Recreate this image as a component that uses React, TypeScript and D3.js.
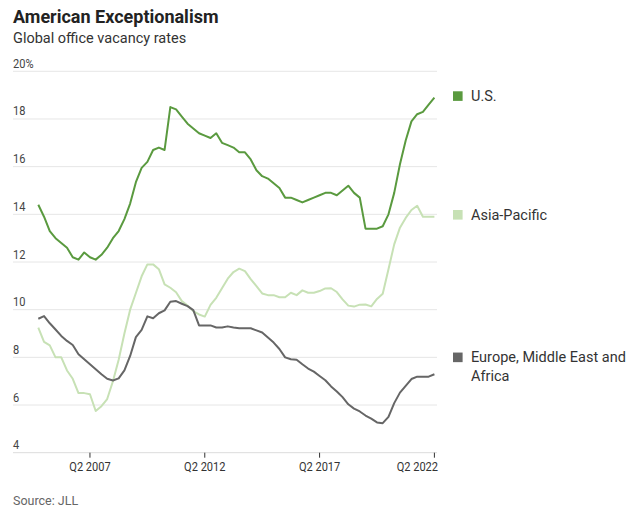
import React from "react";
import * as d3 from "d3";

// Quarterly data, Q1 2005 .. Q2 2022
const startYear = 2005;
const usValues = [
  14.4, 13.9, 13.3, 13.0, 12.8, 12.6, 12.2, 12.1, 12.4, 12.2,
  12.1, 12.3, 12.6, 13.0, 13.3, 13.8, 14.45, 15.35, 15.95, 16.2,
  16.7, 16.8, 16.7, 18.5, 18.4, 18.1, 17.8, 17.6, 17.4, 17.3,
  17.2, 17.4, 17.0, 16.9, 16.8, 16.6, 16.6, 16.3, 15.85, 15.6,
  15.5, 15.3, 15.1, 14.7, 14.7, 14.6, 14.5, 14.6, 14.7, 14.8,
  14.9, 14.9, 14.8, 15.0, 15.2, 14.9, 14.7, 13.4, 13.4, 13.4,
  13.5, 14.0, 14.9, 16.1, 17.1, 17.9, 18.2, 18.3, 18.6, 18.9,
];
const asiaValues = [
  9.25, 8.65, 8.5, 8.0, 8.0, 7.45, 7.1, 6.5, 6.5, 6.45,
  5.75, 5.95, 6.25, 7.0, 7.9, 9.0, 10.0, 10.7, 11.4, 11.9,
  11.9, 11.7, 11.06, 10.92, 10.73, 10.36, 10.17, 9.94, 9.8, 9.71,
  10.2, 10.5, 10.9, 11.3, 11.58, 11.72, 11.62, 11.28, 10.99, 10.68,
  10.61, 10.61, 10.52, 10.52, 10.71, 10.61, 10.81, 10.71, 10.71, 10.78,
  10.89, 10.9, 10.74, 10.43, 10.17, 10.13, 10.21, 10.22, 10.14, 10.45,
  10.67, 11.7, 12.74, 13.44, 13.85, 14.18, 14.36, 13.9, 13.9, 13.9,
];
const emeaValues = [
  9.62, 9.73, 9.43, 9.17, 8.9, 8.69, 8.52, 8.13, 7.92, 7.71,
  7.5, 7.29, 7.1, 7.03, 7.12, 7.45, 8.06, 8.85, 9.15, 9.72,
  9.64, 9.85, 9.97, 10.33, 10.36, 10.25, 10.15, 9.98, 9.34, 9.34,
  9.34, 9.25, 9.25, 9.3, 9.25, 9.22, 9.22, 9.22, 9.13, 9.04,
  8.83, 8.62, 8.35, 8.0, 7.92, 7.9, 7.71, 7.53, 7.4, 7.22,
  7.04, 6.78, 6.57, 6.33, 6.03, 5.85, 5.73, 5.56, 5.43, 5.27,
  5.24, 5.5, 6.08, 6.52, 6.8, 7.09, 7.19, 7.19, 7.19, 7.29,
];

const yTicks = [4, 6, 8, 10, 12, 14, 16, 18, 20];
const xTicks = [2007.25, 2012.25, 2017.25, 2022.25];
const xTickLabels = ["Q2 2007", "Q2 2012", "Q2 2017", "Q2 2022"];

const seriesNames = ["Asia-Pacific", "Europe, Middle East and Africa", "U.S."];
const seriesColors = ["#c7e1b5", "#666666", "#5a9a3f"];
const legendLines = [["U.S."], ["Asia-Pacific"], ["Europe, Middle East and", "Africa"]];
const legendColors = ["#5a9a3f", "#c7e1b5", "#666666"];
const legendAnchors = [18.96, 13.98, 8.0];

const W = 640;
const H = 515;
const FONT = "Roboto, 'Liberation Sans', sans-serif";
const SQUEEZE = 0.85;

function NarrowText(props: {
  x: number;
  y: number;
  anchor?: "start" | "middle" | "end";
  size: number;
  fill: string;
  children: React.ReactNode;
}) {
  return (
    <text
      transform={`translate(${props.x},${props.y}) scale(${SQUEEZE},1)`}
      textAnchor={props.anchor || "start"}
      fontFamily={FONT}
      fontSize={props.size}
      fill={props.fill}
    >
      {props.children}
    </text>
  );
}

export default function App() {
  const n = usValues.length;
  const times = d3.range(n).map((i) => startYear + i / 4);
  const x = d3.scaleLinear().domain([startYear, 2022.25]).range([38.3, 434.4]);
  const y = d3.scaleLinear().domain([4, 20]).range([452.7, 71.3]);
  const line = d3
    .line<number>()
    .x((_, i) => x(times[i]))
    .y((d) => y(d));
  const allSeries = [asiaValues, emeaValues, usValues];
  const gridX0 = 13;
  const gridX1 = 437;

  return (
    <svg
      width={W}
      height={H}
      style={{ position: "absolute", left: 0, top: 0, background: "#fff" }}
      xmlns="http://www.w3.org/2000/svg"
    >
      <rect x={0} y={0} width={W} height={H} fill="#fff" />
      <text x={13} y={22.7} fontFamily={FONT} fontWeight={700} fontSize={18} fill="#222">
        American Exceptionalism
      </text>
      <text x={13} y={43.3} fontFamily={FONT} fontSize={14.5} fill="#333">
        Global office vacancy rates
      </text>

      {yTicks.map((t) => (
        <g key={t}>
          <line
            x1={gridX0}
            x2={gridX1}
            y1={y(t)}
            y2={y(t)}
            stroke={t === 4 ? "#dcdcdc" : "#e6e6e6"}
            strokeWidth={1}
          />
          <NarrowText x={gridX0} y={y(t) - 3.5} size={13} fill="#444">
            {t === 20 ? "20%" : String(t)}
          </NarrowText>
        </g>
      ))}

      {xTicks.map((t, i) => (
        <g key={t}>
          <line x1={x(t)} x2={x(t)} y1={y(4)} y2={y(4) + 5} stroke="#333" strokeWidth={1} />
          <NarrowText
            x={i === xTicks.length - 1 ? 438 : x(t)}
            y={471}
            anchor={i === xTicks.length - 1 ? "end" : "middle"}
            size={13}
            fill="#333"
          >
            {xTickLabels[i]}
          </NarrowText>
        </g>
      ))}

      {allSeries.map((s, k) => (
        <path
          key={seriesNames[k]}
          d={line(s) || ""}
          fill="none"
          stroke={seriesColors[k]}
          strokeWidth={2}
          strokeLinejoin="round"
        />
      ))}

      {legendLines.map((lines, k) => {
        const cy = y(legendAnchors[k]);
        return (
          <g key={k}>
            <rect x={453} y={cy - 4.8} width={9.6} height={9.6} fill={legendColors[k]} />
            {lines.map((l, j) => (
              <text
                key={j}
                x={471}
                y={cy + 4.8 + j * 18.4}
                fontFamily={FONT}
                fontSize={14.5}
                fill="#333"
              >
                {l}
              </text>
            ))}
          </g>
        );
      })}

      <text x={13} y={505} fontFamily={FONT} fontSize={12.5} fill="#666">
        Source: JLL
      </text>
    </svg>
  );
}
